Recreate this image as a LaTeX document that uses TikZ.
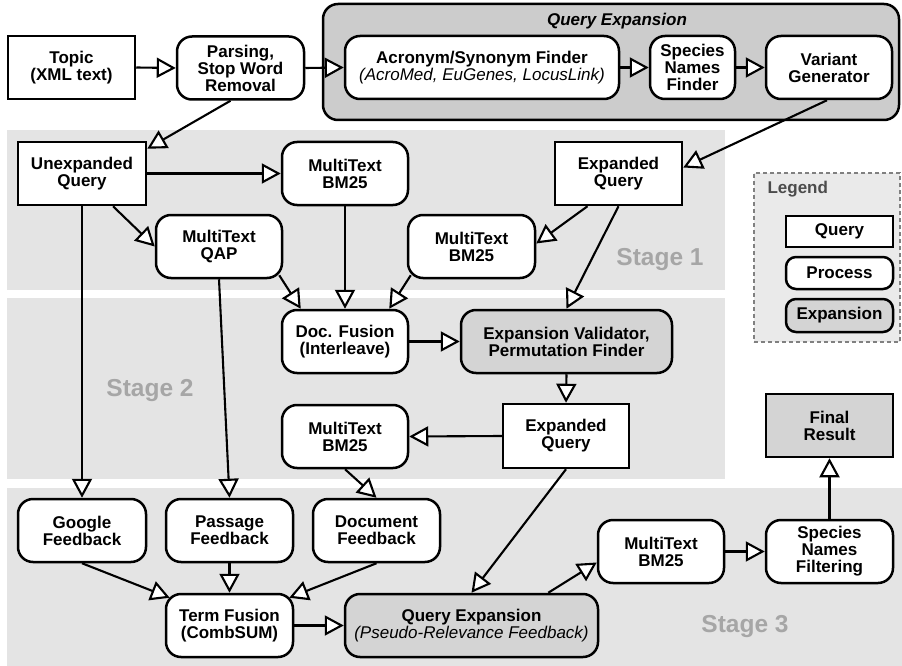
\documentclass[tikz,border=0pt]{standalone}
\usepackage{fontspec}
\setmainfont{Liberation Sans}
\usetikzlibrary{arrows.meta,calc}
\definecolor{band}{gray}{0.895}
\definecolor{qefill}{gray}{0.80}
\definecolor{gfill}{gray}{0.83}
\definecolor{stagecol}{gray}{0.65}
\definecolor{legcol}{gray}{0.30}
\begin{document}
\begin{tikzpicture}[x=1pt,y=-1pt,
  base/.style={draw=black,line width=2.5pt,align=center,inner sep=0pt,
    font=\fontsize{17}{17}\selectfont\bfseries,minimum height=63pt,minimum width=127pt},
  qbox/.style={base,fill=white},
  pbox/.style={base,fill=white,rounded corners=15pt},
  gbox/.style={base,fill=gfill,rounded corners=15pt},
  lbox/.style={base,minimum height=32pt,minimum width=107pt},
  stagelbl/.style={text=stagecol,font=\fontsize{24.5}{24.5}\selectfont\bfseries},
  arr/.style={line width=2.1pt,-{Triangle[length=19pt,width=20pt,fill=white,line width=2.1pt]}},
  bandbg/.style={fill=band,draw=none}
]
\useasboundingbox (0,0) rectangle (902,666);
% stage bands
\path[bandbg] (7,130) rectangle (725,290);
\path[bandbg] (7,298) rectangle (725,479);
\path[bandbg] (7,488) rectangle (902,666);
% query expansion group
\node[draw=black,line width=2.5pt,fill=qefill,rounded corners=15pt,minimum width=576pt,minimum height=116pt,inner sep=0pt] (qe) at (611,62) {};
\node[font=\fontsize{17}{17}\selectfont\bfseries\itshape] (qetitle) at (617,21) {Query Expansion};
% legend
\node[draw=gray,dash pattern=on 4pt off 3pt,line width=1.7pt,fill=band!80!white,minimum width=146pt,minimum height=169pt,inner sep=0pt] (legend) at (827,257.5) {};
\node[anchor=west,text=legcol,font=\fontsize{17}{17}\selectfont\bfseries] (legtitle) at (764,189) {Legend};
\node[lbox,fill=white,minimum height=31pt] (lq) at (839.5,231.5) {Query};
\node[lbox,fill=white,rounded corners=10pt] (lp) at (839.5,273) {Process};
\node[lbox,fill=gfill,rounded corners=10pt,minimum height=33pt] (le) at (839.5,315.5) {Expansion};
% top row
\node[qbox] (topic) at (71.5,67.5) {Topic\\(XML text)};
\node[pbox] (parse) at (240.5,68) {Parsing,\\Stop Word\\Removal};
\node[pbox,minimum width=274pt] (acro) at (482,67.5) {Acronym/Synonym Finder\\{\mdseries\itshape (AcroMed, EuGenes, LocusLink)}};
\node[pbox,minimum width=85pt] (spec) at (692.5,67.5) {Species\\Names\\Finder};
\node[pbox,minimum width=126pt] (vari) at (829,67.5) {Variant\\Generator};
% stage 1
\node[qbox,minimum width=128pt] (unexp) at (82,173.5) {Unexpanded\\Query};
\node[pbox,minimum width=126pt] (bm1) at (345,173.5) {MultiText\\BM25};
\node[pbox,minimum width=126pt] (qap) at (219,246.5) {MultiText\\QAP};
\node[pbox] (bm2) at (471.5,246.5) {MultiText\\BM25};
\node[qbox] (exq1) at (618.5,173.5) {Expanded\\Query};
\node[stagelbl] (s1) at (660,260) {Stage 1};
% stage 2
\node[pbox,minimum width=126pt] (docf) at (345,341.5) {Doc. Fusion\\(Interleave)};
\node[gbox,minimum width=211pt] (expv) at (566.5,341.5) {Expansion Validator,\\Permutation Finder};
\node[stagelbl] (s2) at (150,391) {Stage 2};
\node[pbox,minimum width=126pt] (bm3) at (345,436.5) {MultiText\\BM25};
\node[qbox,minimum width=126pt,minimum height=64pt] (exq2) at (566,436) {Expanded\\Query};
\node[base,fill=gfill] (final) at (829.5,425.5) {Final\\Result};
% stage 3
\node[pbox,minimum width=128pt] (google) at (82,530.5) {Google\\Feedback};
\node[pbox] (passage) at (229.5,530.5) {Passage\\Feedback};
\node[pbox] (docfb) at (376.5,530.5) {Document\\Feedback};
\node[pbox] (termf) at (229.5,625.5) {Term Fusion\\(CombSUM)};
\node[gbox,minimum width=253pt] (prf) at (471.5,625.5) {Query Expansion\\{\mdseries\itshape (Pseudo-Relevance Feedback)}};
\node[pbox,minimum width=126pt] (bm4) at (661,551.5) {MultiText\\BM25};
\node[pbox] (snf) at (829.5,551.5) {Species\\Names\\Filtering};
\node[stagelbl] (s3) at (745,627) {Stage 3};
% connectors
\draw[arr] (topic.east) -- (parse.west);
\draw[arr] (parse.east) -- (acro.west);
\draw[arr] (acro.east) -- (spec.west);
\draw[arr] (spec.east) -- (vari.west);
\draw[arr] ($(parse.south)+(-10,0)$) -- ($(unexp.north east)+(0,8)$);
\draw[arr] ($(vari.south)+(-2,0)$) -- ($(exq1.east)+(0,-6)$);
\draw[arr] (unexp.east) -- (bm1.west);
\draw[arr] ($(unexp.south)+(31,0)$) -- (qap.west);
\draw[arr] (unexp.south) -- (google.north);
\draw[arr] (qap.south) -- (passage.north);
\draw[arr] ($(qap.south east)+(-4,-4)$) -- ($(docf.north west)+(20,0)$);
\draw[arr] (bm1.south) -- (docf.north);
\draw[arr] ($(bm2.south west)+(4,-4)$) -- ($(docf.north east)+(-20,0)$);
\draw[arr] ($(exq1.south)+(-31,0)$) -- ($(bm2.east)+(0,-3)$);
\draw[arr] (exq1.south) -- (expv.north);
\draw[arr] (docf.east) -- (expv.west);
\draw[arr] (expv.south) -- (exq2.north);
\draw[arr] (exq2.west) -- (bm3.east);
\draw[arr] (bm3.south) -- (docfb.north);
\draw[arr] (exq2.south) -- (prf.north);
\draw[arr] (google.south) -- ($(termf.north west)+(5,5)$);
\draw[arr] (passage.south) -- (termf.north);
\draw[arr] (docfb.south) -- ($(termf.north east)+(-5,5)$);
\draw[arr] (termf.east) -- (prf.west);
\draw[arr] ($(prf.north east)+(-51,0)$) -- ($(bm4.west)+(0,11)$);
\draw[arr] (bm4.east) -- (snf.west);
\draw[arr] (snf.north) -- (final.south);
\end{tikzpicture}
\end{document}
